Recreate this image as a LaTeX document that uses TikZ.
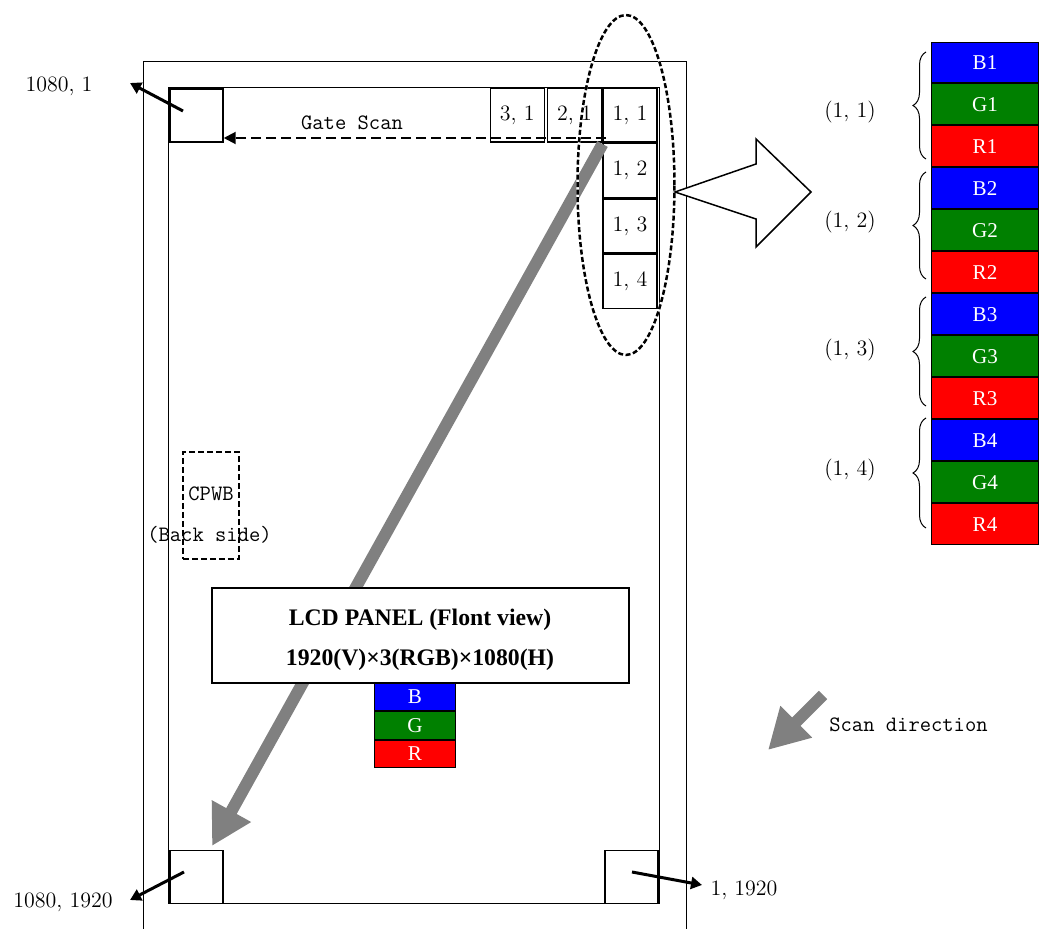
\documentclass[tikz,border=0pt]{standalone}
\usepackage{fontspec}
\newfontfamily\timesfont{Liberation Serif}
\usetikzlibrary{arrows.meta,positioning,calc,decorations.pathreplacing}

\definecolor{subblue}{RGB}{0,0,255}
\definecolor{subgreen}{RGB}{0,128,0}
\definecolor{subred}{RGB}{255,0,0}
\definecolor{scangray}{RGB}{128,128,128}

\tikzset{
	pixel/.style={draw, line width=0.3mm, fill=white, minimum width=1.08cm, minimum height=1.08cm, inner sep=0pt, font=\fontsize{12.5}{14}\selectfont},
	cornerpix/.style={draw, line width=0.3mm, minimum width=1.06cm, minimum height=1.06cm, inner sep=0pt},
	subpix/.style={draw, line width=0.2mm, inner sep=0pt, text=white, font=\timesfont\fontsize{12}{14}\selectfont},
	rgbcell/.style={subpix, minimum width=2.16cm, minimum height=0.82cm},
	smallcell/.style={subpix, minimum width=1.64cm, minimum height=0.55cm},
	serif/.style={font=\fontsize{12.5}{14}\selectfont},
	mono/.style={font=\ttfamily\fontsize{12.5}{15}\selectfont},
	paneltext/.style={font=\timesfont\bfseries\fontsize{13.5}{16}\selectfont},
	cornerarrow/.style={line width=0.6mm, -{Triangle[length=2.2mm, width=2.4mm]}},
	grayarrow/.style={line width=2.4mm, scangray, -{Triangle[length=8mm, width=8.4mm]}},
}

\begin{document}
\begin{tikzpicture}[x=0.02cm, y=-0.02cm]
			%%%%% START %%%%%
			\useasboundingbox (0,0) rectangle (1039,929);
			
			\draw[line width=0.2mm] (143,929) -- (143,62) -- (686,62) -- (686,929);
			\draw[line width=0.2mm] (168,88) rectangle (659,903);
			
			\node[pixel] (p11) at (630,115) {1, 1};
			\node[pixel, below=0pt of p11] (p12) {1, 2};
			\node[pixel, below=0pt of p12] (p13) {1, 3};
			\node[pixel, below=0pt of p13] (p14) {1, 4};
			\node[pixel, left=0pt of p11] (p21) {2, 1};
			\node[pixel, left=1pt of p21] (p31) {3, 1};
			
			\node[cornerpix] (tl) at (196.5,115.5) {};
			\node[cornerpix] (bl) at (196.5,877) {};
			\node[cornerpix] (br) at (631.5,877) {};
			
			\coordinate (gsstart) at (606,138);
			\draw[line width=0.4mm, dash pattern=on 2mm off 1mm, -{Triangle[length=2.4mm, width=2.4mm]}] (gsstart) -- (gsstart -| tl.east);
			\node[mono] (gslbl) at (352,123) {Gate Scan};
			
			\coordinate (scantop) at (602.5,144);
			\coordinate (scanend) at (212,846);
			\draw[grayarrow] (scantop) -- (scanend);
			
			\draw[line width=0.5mm, white] (626,185) ellipse [x radius=0.97cm, y radius=3.4cm];
			\draw[line width=0.5mm, dash pattern=on 1mm off 0.5mm] (626,185) ellipse [x radius=0.97cm, y radius=3.4cm];
			
			\coordinate (ee) at (675,192);
			\draw[line width=0.3mm, fill=white] (ee) -- (756,164) -- (756,139) -- (811,192) -- (756,247) -- (756,219) -- cycle;
			
			\node[draw, line width=0.35mm, dash pattern=on 1.2mm off 0.6mm, minimum width=1.12cm, minimum height=2.14cm] (cpwb) at (211,505.5) {};
			\node[mono] (cpwblbl) at (211,494) {CPWB};
			\node[mono] (backlbl) at (209.5,535) {(Back side)};
			
			\node[draw, line width=0.3mm, fill=white, minimum width=8.34cm, minimum height=1.9cm] (panel) at (420.5,635.5) {};
			\node[paneltext] (paneltop) at (420,620) {LCD PANEL (Flont view)};
			\node[paneltext] (panelbot) at (420,660) {1920(V)×3(RGB)×1080(H)};
			
			\node[smallcell, fill=subblue] (sb) at (415,697) {B};
			\node[smallcell, fill=subgreen, below=0pt of sb] (sg) {G};
			\node[smallcell, fill=subred, below=0pt of sg] (sr) {R};
			
			\node[rgbcell, fill=subblue] (b1) at (985,62.5) {B1};
			\node[rgbcell, fill=subgreen, below=0pt of b1] (g1) {G1};
			\node[rgbcell, fill=subred, below=0pt of g1] (r1) {R1};
			\node[rgbcell, fill=subblue, below=0pt of r1] (b2) {B2};
			\node[rgbcell, fill=subgreen, below=0pt of b2] (g2) {G2};
			\node[rgbcell, fill=subred, below=0pt of g2] (r2) {R2};
			\node[rgbcell, fill=subblue, below=0pt of r2] (b3) {B3};
			\node[rgbcell, fill=subgreen, below=0pt of b3] (g3) {G3};
			\node[rgbcell, fill=subred, below=0pt of g3] (r3) {R3};
			\node[rgbcell, fill=subblue, below=0pt of r3] (b4) {B4};
			\node[rgbcell, fill=subgreen, below=0pt of b4] (g4) {G4};
			\node[rgbcell, fill=subred, below=0pt of g4] (r4) {R4};
			
			\draw[line width=0.2mm, decorate, decoration={brace, amplitude=0.26cm}] (926,159) -- (926,52);
			\draw[line width=0.2mm, decorate, decoration={brace, amplitude=0.26cm}] (926,279) -- (926,172);
			\draw[line width=0.2mm, decorate, decoration={brace, amplitude=0.26cm}] (926,406) -- (926,297);
			\draw[line width=0.2mm, decorate, decoration={brace, amplitude=0.26cm}] (926,528) -- (926,418);
			\node[serif] (lbl11) at (850,112) {(1, 1)};
			\node[serif] (lbl12) at (850,222) {(1, 2)};
			\node[serif] (lbl13) at (850,350) {(1, 3)};
			\node[serif] (lbl14) at (850,470) {(1, 4)};
			
			\coordinate (tlend) at (130,83);
			\coordinate (blend) at (130,900);
			\coordinate (brend) at (702,885);
			\draw[cornerarrow] ($(tl)+(-13.5,-4.5)$) -- (tlend);
			\draw[cornerarrow] ($(bl)+(-12.5,-5)$) -- (blend);
			\draw[cornerarrow] ($(br)+(0.5,-5)$) -- (brend);
			\node[serif] (tllbl) at (59,86) {1080, 1};
			\node[serif] (bllbl) at (63,902) {1080, 1920};
			\node[serif] (brlbl) at (744,890) {1, 1920};
			
			\coordinate (dirtail) at (823,695);
			\coordinate (dirtip) at (768,750);
			\draw[grayarrow] (dirtail) -- (dirtip);
			\node[mono] (dirlbl) at (908.5,725) {Scan direction};
			
			%%%%% END %%%%%
\end{tikzpicture}
\end{document}
